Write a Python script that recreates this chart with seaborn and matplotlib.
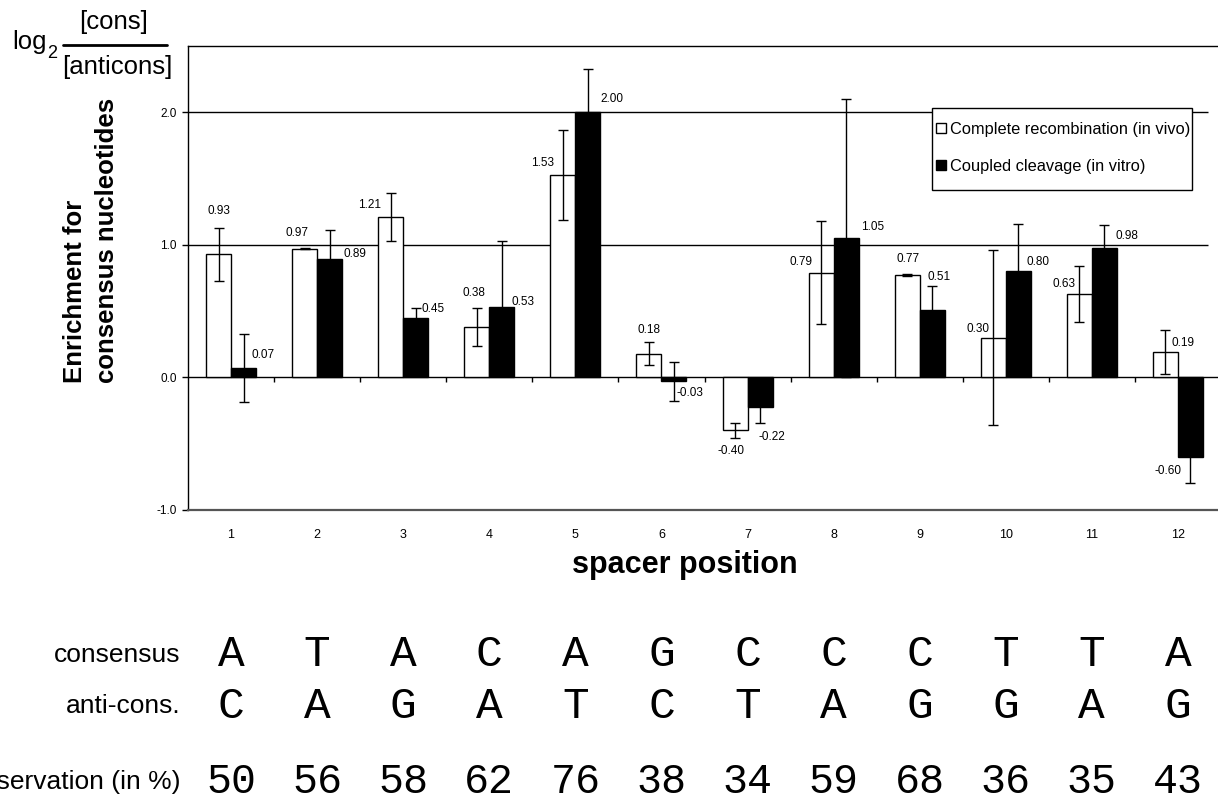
import numpy as np
import pandas as pd
import matplotlib
matplotlib.use('Agg')
from matplotlib import pyplot as plt
from matplotlib import transforms
from matplotlib.lines import Line2D
from matplotlib.patches import Rectangle
from matplotlib.ticker import FormatStrFormatter
import seaborn as sns

# data
positions = ['1', '2', '3', '4', '5', '6', '7', '8', '9', '10', '11', '12']
series_names = ['Complete recombination (in vivo)', 'Coupled cleavage (in vitro)']
recomb = [0.93, 0.97, 1.21, 0.38, 1.53, 0.18, -0.40, 0.79, 0.77, 0.30, 0.63, 0.19]
recomb_err = [0.20, 0.005, 0.18, 0.145, 0.34, 0.085, 0.057, 0.39, 0.008, 0.66, 0.21, 0.165]
cleavage = [0.07, 0.89, 0.45, 0.53, 2.00, -0.03, -0.22, 1.05, 0.51, 0.80, 0.98, -0.60]
cleavage_err = [0.255, 0.22, 0.075, 0.50, 0.33, 0.15, 0.125, 1.05, 0.18, 0.36, 0.17, 0.20]
consensus = ['A', 'T', 'A', 'C', 'A', 'G', 'C', 'C', 'C', 'T', 'T', 'A']
anticons = ['C', 'A', 'G', 'A', 'T', 'C', 'T', 'A', 'G', 'G', 'A', 'G']
conservation = [50, 56, 58, 62, 76, 38, 34, 59, 68, 36, 35, 43]

# value label nudges (pixels) relative to the bar end, as placed in the original
recomb_label_nudge = [(0, 43), (-8, 16), (-21, 12), (-3, 34), (-20, 12), (0, 24),
                      (-4, -21), (-20, 11), (1, 16), (-15, 9), (-15, 10), (18, 9)]
cleavage_label_nudge = [(20, 13), (25, 5), (17, 9), (21, 5), (24, 13), (16, -12),
                        (12, -30), (27, 11), (7, 33), (20, 9), (23, 12), (-22, -14)]

sns.set_theme(style='white')
plt.rcParams['font.family'] = ['Liberation Sans', 'DejaVu Sans']
plt.rcParams['axes.unicode_minus'] = False

W, H = 1218, 806
fig = plt.figure(figsize=(W / 100, H / 100), dpi=100)
ax = fig.add_axes([188 / W, 1 - 510 / H, 1033 / W, 464 / H])

df = pd.DataFrame({
    'position': positions * 2,
    'enrichment': recomb + cleavage,
    'assay': [series_names[0]] * len(positions) + [series_names[1]] * len(positions),
})
sns.barplot(
    data=df,
    x='position',
    y='enrichment',
    hue='assay',
    order=positions,
    hue_order=series_names,
    palette=dict(zip(series_names, ['white', 'black'])),
    width=0.58,
    saturation=1,
    edgecolor='black',
    linewidth=1,
    errorbar=None,
    legend=False,
    zorder=2,
    ax=ax,
)

ax.set_xlim(-0.5, len(positions) - 0.5)
ax.set_ylim(-1, 2.5)

for cont, err, nudges in zip(ax.containers, [recomb_err, cleavage_err],
                             [recomb_label_nudge, cleavage_label_nudge]):
    xs = [b.get_x() + b.get_width() / 2 for b in cont]
    hs = [b.get_height() for b in cont]
    ax.errorbar(xs, hs, yerr=err, fmt='none', ecolor='black', elinewidth=1,
                capsize=3.5, capthick=1, zorder=3)
    for x, h, (dx, dy) in zip(xs, hs, nudges):
        ax.annotate('%.2f' % h, (x, h), xytext=(dx, dy), textcoords='offset pixels',
                    ha='center', va='center', fontsize=8.5, color='black', zorder=4)

# reference lines, zero axis with category separators
ax.hlines([1, 2], -0.5, 11.35, color='black', lw=1, zorder=1)
ax.axhline(0, color='black', lw=1, zorder=1.5)
ax.vlines(np.arange(len(positions) - 1) + 0.5, -0.035, 0, color='black', lw=1, zorder=1.5)

ax.set_yticks([-1, 0, 1, 2])
ax.yaxis.set_major_formatter(FormatStrFormatter('%.1f'))
ax.tick_params(axis='y', left=True, length=4.5, width=1, color='black', pad=3.5,
               labelsize=8.5, labelcolor='black', direction='out')
ax.tick_params(axis='x', bottom=False, length=0, pad=14, labelsize=9, labelcolor='black')

for side in ['left', 'top']:
    ax.spines[side].set_color('black')
    ax.spines[side].set_linewidth(1)
ax.spines['right'].set_visible(False)
ax.spines['bottom'].set_color('#555555')
ax.spines['bottom'].set_linewidth(1.6)

ax.set_xlabel('spacer position', fontsize=22, fontweight='bold', color='black', va='center')
ax.xaxis.set_label_coords((685 - 188) / 1033, (510 - 565) / 464)
ax.set_ylabel('Enrichment for\nconsensus nucleotides', fontsize=18.5, fontweight='bold',
              color='black', va='center', multialignment='left', linespacing=1.4)
ax.yaxis.set_label_coords((91 - 188) / 1033, (510 - 240) / 464)

# log2 ratio caption
fig.text(12 / W, 1 - 42 / H, 'log', ha='left', va='center', fontsize=18.5, color='black')
fig.text(47 / W, 1 - 53 / H, '2', ha='left', va='center', fontsize=13, color='black')
fig.text(114 / W, 1 - 22 / H, '[cons]', ha='center', va='center', fontsize=18.5, color='black')
fig.text(117.5 / W, 1 - 67 / H, '[anticons]', ha='center', va='center', fontsize=18.5, color='black')
fig.add_artist(Line2D([63 / W, 167 / W], [1 - 44.5 / H] * 2, transform=fig.transFigure,
                      color='black', lw=2))

# sequence rows under the chart
trans = transforms.blended_transform_factory(ax.transData, fig.transFigure)
rows = [('consensus', consensus, 655, 32), ('anti-cons.', anticons, 706, 32),
        ('conservation (in %)', conservation, 782, 30)]
for name, values, ypix, size in rows:
    fig.text(180 / W, 1 - ypix / H, name, ha='right', va='center', fontsize=19, color='black')
    for i, v in enumerate(values):
        ax.text(i, 1 - ypix / H, str(v), transform=trans, ha='center', va='center',
                family='Liberation Mono', fontsize=size, color='black', clip_on=False)

# legend with a hand-sized frame
leg = ax.legend(list(ax.containers), series_names, loc='center left',
                bbox_to_anchor=(936 / W, 1 - 148 / H), bbox_transform=fig.transFigure,
                frameon=False, borderpad=0, borderaxespad=0, fontsize=11.8,
                handlelength=0.6, handleheight=0.6, handletextpad=0.25, labelspacing=1.35)
leg.set_zorder(6)
for t in leg.get_texts():
    t.set_color('black')
fig.canvas.draw()
bb = leg.get_window_extent(fig.canvas.get_renderer())
inv = fig.transFigure.inverted()
x0, y0 = inv.transform((bb.x0 - 4, bb.y0 - 16))
x1, y1 = inv.transform((bb.x1 + 2, bb.y1 + 14))
ax.add_artist(Rectangle((x0, y0), x1 - x0, y1 - y0, transform=fig.transFigure,
                        facecolor='white', edgecolor='black', lw=1, zorder=5))

fig.savefig('out.png', dpi=100)
plt.close('all')
